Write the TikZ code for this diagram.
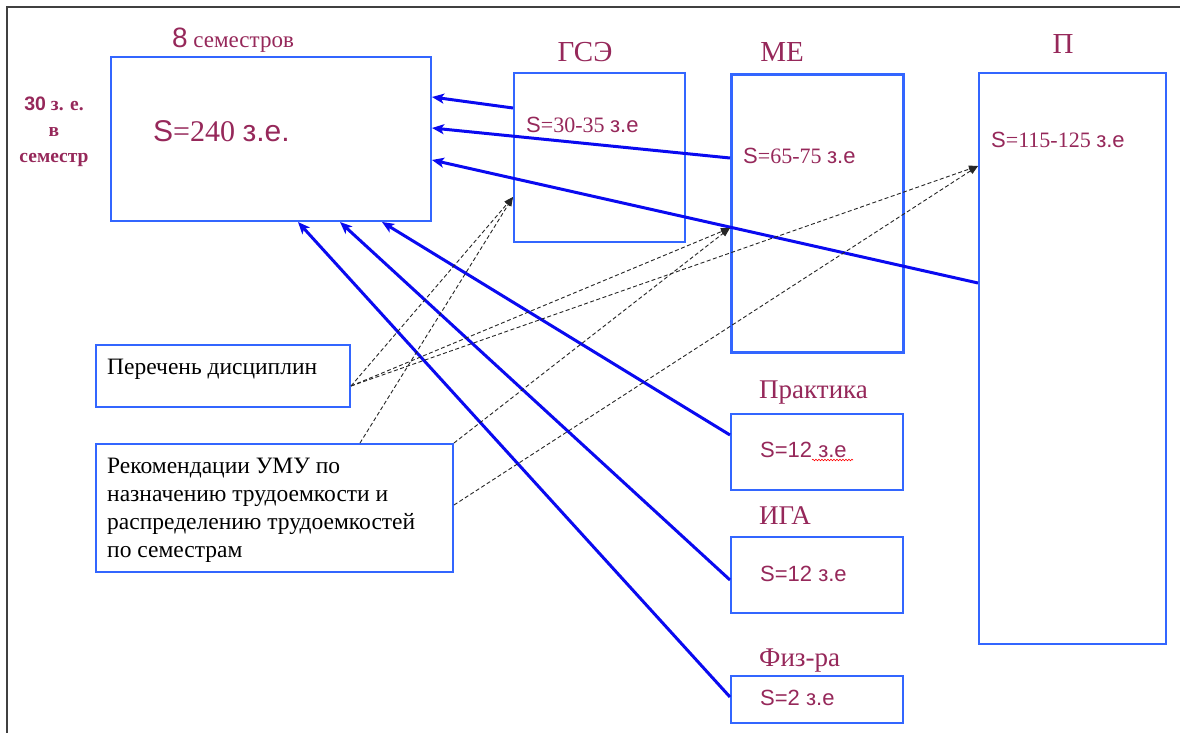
\documentclass[tikz,border=0pt]{standalone}
\usepackage{fontspec}
\setmainfont{Liberation Serif}
\newfontfamily\arialf{Liberation Sans}
\usetikzlibrary{arrows.meta,decorations.pathmorphing}
\definecolor{boxblue}{RGB}{51,102,255}
\definecolor{arrblue}{RGB}{10,10,240}
\definecolor{maroon}{RGB}{150,40,90}
\newcommand{\fs}[1]{\fontsize{#1}{#1}\selectfont}
\tikzset{
  box/.style={draw=boxblue, line width=2pt, inner sep=0pt, anchor=north west},
  lbl/.style={inner sep=0pt, text=maroon},
  blue arrow/.style={draw=arrblue, line width=3pt, -{Stealth[length=12pt,width=10pt,inset=3pt]}},
  dash arrow/.style={draw=black!85, line width=0.9pt, dash pattern=on 4pt off 2.5pt, -{Triangle[length=9pt,width=7pt]}},
}
\begin{document}
\begin{tikzpicture}[x=1pt,y=-1pt]
\useasboundingbox (0,0) rectangle (1180,733);
\fill[white] (0,0) rectangle (1180,733);
% outer frame (top and left)
\draw[black!75, line width=1.6pt] (1180,7) -- (7,7) -- (7,733);

% boxes
\node[box, minimum width=320pt, minimum height=164pt] (sem) at (110,56) {};
\node[box, minimum width=171pt, minimum height=169pt] (gse) at (513,72) {};
\node[box, line width=3.2pt, minimum width=172pt, minimum height=278pt] (me) at (730,73) {};
\node[box, minimum width=187pt, minimum height=571pt] (p) at (978,72) {};
\node[box, minimum width=254pt, minimum height=62pt] (per) at (95,344) {};
\node[box, minimum width=357pt, minimum height=128pt] (rec) at (95,443) {};
\node[box, minimum width=172pt, minimum height=76pt] (prak) at (730,413) {};
\node[box, minimum width=172pt, minimum height=76pt] (iga) at (730,536) {};
\node[box, minimum width=172pt, minimum height=47pt] (fiz) at (730,675) {};

% titles
\node[lbl, anchor=base, font=\fs{23}] (t8) at (233,48) {{\arialf\fs{28}8} семестров};
\node[lbl, align=center, anchor=north, font=\fontsize{19.5}{26}\selectfont\bfseries] (t30) at (54,97)
  {{\arialf 30} з. е.\\в\\семестр};
\node[lbl, anchor=base, font=\fs{29}] (tgse) at (585,62) {ГСЭ};
\node[lbl, anchor=base, font=\fs{29}] (tme) at (782,62) {МЕ};
\node[lbl, anchor=base, font=\fs{29}] (tp) at (1063,54) {П};
\node[lbl, anchor=base west, font=\fs{27}] (tprak) at (759,398) {Практика};
\node[lbl, anchor=base west, font=\fs{27}] (tiga) at (759,524) {ИГА};
\node[lbl, anchor=base west, font=\fs{27}] (tfiz) at (759,666) {Физ-ра};

% values
\node[lbl, anchor=base west, font=\fs{30}] (vsem) at (153,142) {{\arialf S}=240 {\arialf з.е.}};
\node[lbl, anchor=base west, font=\fs{22}] (vgse) at (526,132) {{\arialf S}=30-35 {\arialf з.е}};
\node[lbl, anchor=base west, font=\fs{22}] (vme) at (743,164) {{\arialf S}=65-75 {\arialf з.е}};
\node[lbl, anchor=base west, font=\fs{22}] (vp) at (991,147) {{\arialf S}=115-125 {\arialf з.е}};
\node[lbl, anchor=base west, font=\fs{22}\arialf] (vprak) at (760,457) {S=12 з.е};
\node[lbl, anchor=base west, font=\fs{22}\arialf] (viga) at (760,581) {S=12 з.е};
\node[lbl, anchor=base west, font=\fs{22}\arialf] (vfiz) at (760,705) {S=2 з.е};
\coordinate (w1) at (812,460);
\coordinate (w2) at (853,460);
\draw[red, line width=0.6pt, decorate, decoration={snake, amplitude=0.8pt, segment length=3pt}] (w1) -- (w2);

% left boxes text
\node[inner sep=0pt, anchor=base west, font=\fs{23.5}] (tper) at (107,374) {Перечень дисциплин};
\node[inner sep=0pt, anchor=base west, align=left, font=\fontsize{23.5}{28}\selectfont] (trec) at (107,557)
  {Рекомендации УМУ по\\назначению трудоемкости и\\распределению трудоемкостей\\по семестрам};

% blue arrows
\draw[blue arrow] (gse.west |- 0,108) -- (sem.east |- 0,97);
\draw[blue arrow] (me.west |- 0,158) -- (sem.east |- 0,128);
\draw[blue arrow] (p.west |- 0,283) -- (sem.east |- 0,160);
\draw[blue arrow] (prak.west |- 0,435) -- (sem.south -| 382,0);
\draw[blue arrow] (iga.west |- 0,580) -- (sem.south -| 340,0);
\draw[blue arrow] (fiz.west |- 0,697) -- (sem.south -| 298,0);

% dashed arrows
\draw[dash arrow] (per.east |- 0,386) -- (gse.west |- 0,197);
\draw[dash arrow] (per.east |- 0,386) -- (me.west |- 0,228);
\draw[dash arrow] (per.east |- 0,386) -- (p.west |- 0,166);
\draw[dash arrow] (rec.north -| 360,0) -- (gse.west |- 0,197);
\draw[dash arrow] (rec.north east) -- (me.west |- 0,228);
\draw[dash arrow] (rec.east |- 0,505) -- (p.west |- 0,166);
\end{tikzpicture}
\end{document}
